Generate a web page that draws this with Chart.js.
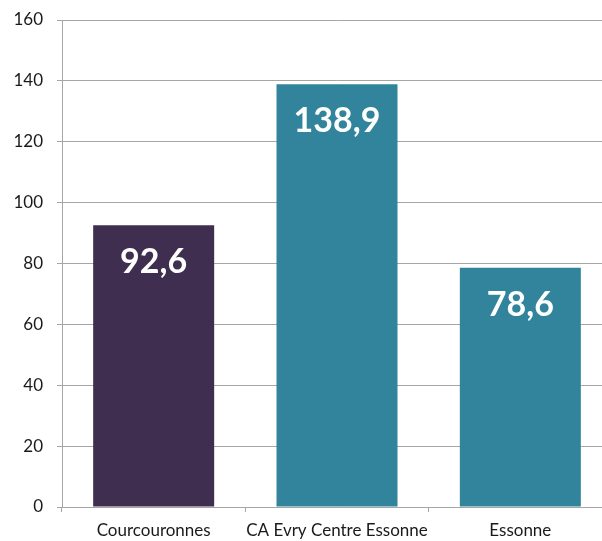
<!DOCTYPE html>
<html><head><meta charset="utf-8">
<script src="https://cdn.jsdelivr.net/npm/chart.js@4/dist/chart.umd.min.js"></script>
<style>
html,body{margin:0;padding:0;background:#fff;overflow:hidden;}
#wrap{width:612px;height:541px;position:relative;}
</style></head>
<body><div id="wrap"><canvas id="c"></canvas></div>
<script>
const categories = ["Courcouronnes", "CA Evry Centre Essonne", "Essonne"];
const values = [92.6, 138.9, 78.6];
const valueLabels = ["92,6", "138,9", "78,6"];
const barColors = ["#3F2E4F", "#31849B", "#31849B"];
const yTicks = [0, 20, 40, 60, 80, 100, 120, 140, 160];

const labelPlugin = {
  id: 'vlabels',
  afterDatasetsDraw(chart) {
    const ctx = chart.ctx;
    const meta = chart.getDatasetMeta(0);
    ctx.save();
    ctx.fillStyle = '#ffffff';
    ctx.font = 'bold 34px Lato, "Open Sans", sans-serif';
    ctx.textAlign = 'center';
    ctx.textBaseline = 'middle';
    meta.data.forEach((bar, i) => {
      ctx.fillText(valueLabels[i], bar.x, bar.y + 37);
    });
    ctx.restore();
  }
};

new Chart(document.getElementById('c'), {
  type: 'bar',
  data: {
    labels: categories,
    datasets: [{ data: values, backgroundColor: barColors, borderWidth: 0,
      categoryPercentage: 0.66, barPercentage: 1.0 }]
  },
  plugins: [labelPlugin],
  options: {
    responsive: true, maintainAspectRatio: false, animation: false,
    layout: { padding: { top: 20, right: 0, left: 0, bottom: 0 } },
    plugins: { legend: { display: false }, tooltip: { enabled: false } },
    scales: {
      x: {
        offset: true,
        grid: { display: true, drawOnChartArea: false, drawTicks: true, tickLength: 5, color: '#A6A6A6', offset: true },
        border: { display: true, color: '#A6A6A6', width: 1 },
        ticks: { color: '#1a1a1a', font: { family: 'Lato, "Open Sans", sans-serif', size: 17 }, padding: 8, maxRotation: 0, autoSkip: false },
        afterFit(s) { s.height = 34; s.paddingLeft = 0; s.paddingRight = 0; }
      },
      y: {
        min: 0, max: 160,
        afterBuildTicks(s) { s.ticks = yTicks.map(v => ({ value: v })); },
        grid: { color: '#A6A6A6', drawTicks: true, tickLength: 5 },
        border: { display: true, color: '#A6A6A6', width: 1 },
        ticks: { color: '#1a1a1a', font: { family: 'Lato, "Open Sans", sans-serif', size: 17 }, padding: 14 },
        afterFit(s) { s.width = 62; s.paddingTop = 0; s.paddingBottom = 0; }
      }
    }
  }
});
</script></body></html>
